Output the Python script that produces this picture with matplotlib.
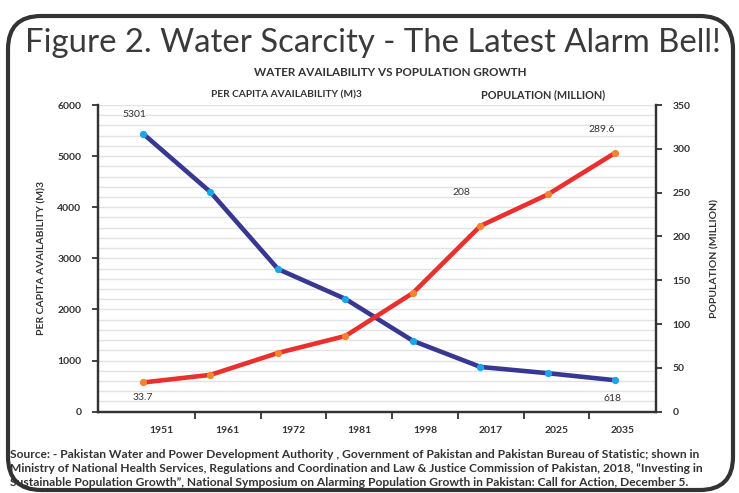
import matplotlib.pyplot as plt
import numpy as np
from matplotlib import font_manager as fm
from matplotlib.patches import FancyBboxPatch

plt.rcParams['font.family'] = ['Lato', 'DejaVu Sans']

years = ['1951', '1961', '1972', '1981', '1998', '2017', '2025', '2035']
water = [5440, 4295, 2790, 2205, 1385, 875, 752, 614]
population = [33.3, 42.0, 67.0, 86.4, 135.5, 212.0, 248.0, 295.6]

# labels as printed on the chart
water_labels = {0: '5301', 7: '618'}
pop_labels = {0: '33.7', 5: '208', 7: '289.6'}

dark = '#333333'
blue = '#383893'
blue_mk = '#1aa7ea'
red = '#ea2f2f'
red_mk = '#f5842c'


def weight_num(w):
    if isinstance(w, str):
        return fm.weight_dict.get(w, 400)
    return w


# pick the boldest-ish Lato face that is installed
lato = [f for f in fm.fontManager.ttflist if f.name.startswith('Lato')
        and 'italic' not in f.style]
bold_faces = sorted(lato, key=lambda f: abs(weight_num(f.weight) - 700))
if bold_faces and weight_num(bold_faces[0].weight) >= 600:
    BOLD = dict(fontproperties=fm.FontProperties(fname=bold_faces[0].fname))
else:
    BOLD = dict(fontweight='bold')
reg_faces = sorted(lato, key=lambda f: abs(weight_num(f.weight) - 400))
if reg_faces:
    REG = dict(fontproperties=fm.FontProperties(fname=reg_faces[0].fname))
else:
    REG = dict()


def txt(obj, size, props):
    p = props.get('fontproperties')
    if p is not None:
        p = p.copy()
        p.set_size(size)
        obj.set_fontproperties(p)
    else:
        obj.set_fontsize(size)
        if 'fontweight' in props:
            obj.set_fontweight(props['fontweight'])


fig = plt.figure(figsize=(7.39, 4.93), dpi=100)
renderer = fig.canvas.get_renderer()


def fit_size(obj, size, props, width_px):
    txt(obj, size, props)
    w = obj.get_window_extent(renderer).width
    return size * width_px / w


def fit(obj, size, props, width_px):
    txt(obj, fit_size(obj, size, props, width_px), props)


# rounded frame around everything
frame = FancyBboxPatch((8 / 739, 3 / 493), 725 / 739, 474 / 493,
                       boxstyle='round,pad=0,rounding_size=0.045',
                       transform=fig.transFigure, fill=False,
                       edgecolor=dark, linewidth=3, mutation_aspect=739 / 493)
fig.patches.append(frame)

t = fig.text(0.505, 0.912, 'Figure 2. Water Scarcity - The Latest Alarm Bell!',
             ha='center', va='center', color='#3a3a3a')
fit(t, 25, REG, 697)
t = fig.text(0.528, 0.852, 'WATER AVAILABILITY VS POPULATION GROWTH',
             ha='center', va='center', color=dark)
fit(t, 7, BOLD, 272)
t = fig.text(0.388, 0.808, 'PER CAPITA AVAILABILITY (M)3',
             ha='center', va='center', color=dark)
fit(t, 7, BOLD, 150)
t = fig.text(0.735, 0.808, 'POPULATION (MILLION)',
             ha='center', va='center', color=dark)
fit(t, 7, BOLD, 124)

ax = fig.add_axes([0.1326, 0.165, 0.755, 0.622])
ax2 = ax.twinx()

x = np.arange(len(years))
ax.set_xlim(-0.667, 7.6)
ax.set_ylim(0, 6000)
ax2.set_ylim(0, 350)

ax.set_yticks(np.arange(0, 6001, 1000))
ax.set_yticks(np.arange(0, 6001, 200), minor=True)
ax.grid(axis='y', which='both', color='#e3e3e3', linewidth=1)
ax.set_axisbelow(True)
ax2.set_yticks(np.arange(0, 351, 50))

label_pos = np.linspace(0.28, 7.1, len(years))
ax.set_xticks(label_pos)
ax.set_xticklabels(years)
ax.set_xticks(label_pos[:-1] + 0.487, minor=True)
ax.tick_params(axis='x', which='major', length=0, pad=10)
ax.tick_params(axis='x', which='minor', length=5, width=1.3, color=dark)
ax.tick_params(axis='y', which='minor', length=0)

for a in (ax, ax2):
    a.spines['top'].set_visible(False)
    for s in ('left', 'right', 'bottom'):
        a.spines[s].set_color(dark)
        a.spines[s].set_linewidth(1.6)
    a.tick_params(axis='y', which='major', length=4, width=1.3, color=dark,
                  labelcolor=dark, pad=8)
    for tl in a.get_yticklabels():
        txt(tl, 7.5, BOLD)
ax.tick_params(axis='x', labelcolor=dark)
for tl in ax.get_xticklabels():
    txt(tl, 7.5, BOLD)

ax.set_ylabel('PER CAPITA AVAILABILITY (M)3', color=dark, labelpad=8)
txt(ax.yaxis.label, 7.5, BOLD)
ax2.set_ylabel('POPULATION (MILLION)', color=dark, labelpad=14)
txt(ax2.yaxis.label, 7.5, BOLD)

ax.plot(x, water, color=blue, linewidth=3.3, solid_capstyle='butt', zorder=3)
ax.plot(x, water, 'o', color=blue_mk, markersize=4.2, zorder=4)
ax2.plot(x, population, color=red, linewidth=3.3, solid_capstyle='butt', zorder=3)
ax2.plot(x, population, 'o', color=red_mk, markersize=4.2, zorder=4)

for i, s in water_labels.items():
    off = (-6, 14) if i == 0 else (-2, -13)
    an = ax.annotate(s, (x[i], water[i]), xytext=off,
                     textcoords='offset points', ha='center', va='center',
                     color=dark)
    txt(an, 7.5, REG)
for i, s in pop_labels.items():
    if i == 0:
        xy_off = (0, -11)
    elif i == 5:
        xy_off = (-14, 24)
    else:
        xy_off = (-10, 17)
    an = ax2.annotate(s, (x[i], population[i]), xytext=xy_off,
                      textcoords='offset points', ha='center', va='center',
                      color=dark)
    txt(an, 7.5, REG)

source = ['Source: - Pakistan Water and Power Development Authority , Government of Pakistan and Pakistan Bureau of Statistic; shown in',
          'Ministry of National Health Services, Regulations and Coordination and Law & Justice Commission of Pakistan, 2018, \u201cInvesting in',
          'Sustainable Population Growth\u201d, National Symposium on Alarming Population Growth in Pakistan: Call for Action, December 5.']
source_w = [727, 727, 711]
lines = []
for k, line in enumerate(source):
    t = fig.text(10 / 739, 1 - (455 + 14 * k) / 493, line, ha='left',
                 va='center', color=dark)
    lines.append(t)
size = 0.96 * np.mean([fit_size(t, 8, BOLD, w) for t, w in zip(lines, source_w)])
for t in lines:
    txt(t, size, BOLD)

fig.savefig('out.png', dpi=100)
